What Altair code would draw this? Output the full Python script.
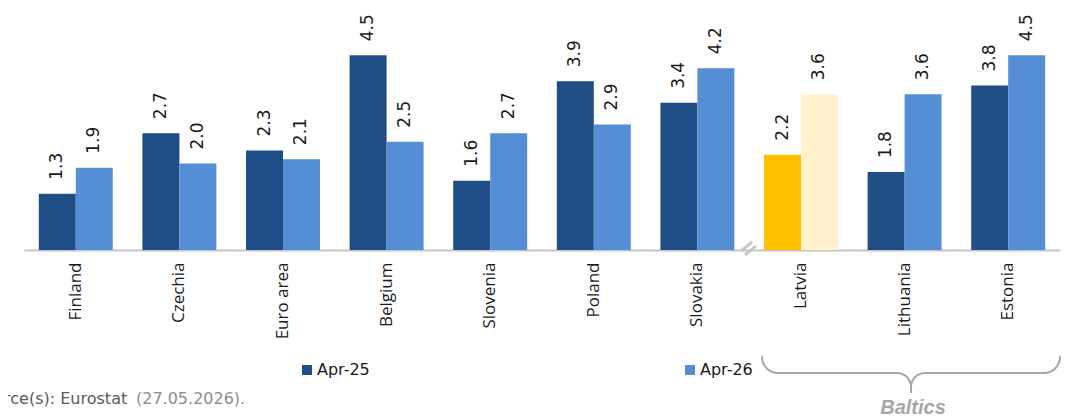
import altair as alt
import pandas as pd
import numpy as np

# ---------------- data ----------------
countries = ["Finland", "Czechia", "Euro area", "Belgium", "Slovenia",
             "Poland", "Slovakia", "Latvia", "Lithuania", "Estonia"]
apr25 = [1.3, 2.7, 2.3, 4.5, 1.6, 3.9, 3.4, 2.2, 1.8, 3.8]
apr26 = [1.9, 2.0, 2.1, 2.5, 2.7, 2.9, 4.2, 3.6, 3.6, 4.5]
series_names = ["Apr-25", "Apr-26"]
highlight = "Latvia"
group_label = "Baltics"
source_main = "Source(s): Eurostat"
source_date = "(27.05.2026)."

# ---------------- styling ----------------
PLOT_W, PLOT_H = 1036, 238
PAD_L, PAD_T, PAD_R, PAD_B = 16, 4, 3, 168
OX, OY = 8 + PAD_L, 8 + PAD_T  # page position of plot origin

color_domain = series_names + [f"{highlight} {s}" for s in series_names]
color_range = ["#1F4E87", "#558ED5", "#FFC000", "#FFF2CC"]

rows = []
for c, a, b in zip(countries, apr25, apr26):
    for s, v in zip(series_names, (a, b)):
        rows.append({"country": c, "series": s, "value": v,
                     "ckey": f"{highlight} {s}" if c == highlight else s})
df = pd.DataFrame(rows)

x_enc = alt.X("country:N", sort=countries,
              scale=alt.Scale(paddingInner=0.286, paddingOuter=0.143),
              axis=alt.Axis(title=None, labelAngle=270, labelAlign="right",
                            labelBaseline="middle", labelPadding=12,
                            labelFont="Open Sans", labelFontSize=17,
                            labelColor="#1a1a1a", ticks=False,
                            domainColor="#c4c4c4", domainWidth=2,
                            labelLimit=300))
xo_enc = alt.XOffset("series:N", sort=series_names,
                     scale=alt.Scale(paddingInner=0, paddingOuter=0))
y_enc = alt.Y("value:Q", scale=alt.Scale(domain=[0, 5.5]), axis=None)

bars = alt.Chart(df).mark_bar().encode(
    x=x_enc, xOffset=xo_enc, y=y_enc,
    color=alt.Color("ckey:N",
                    scale=alt.Scale(domain=color_domain, range=color_range),
                    legend=alt.Legend(title=None, values=series_names,
                                      orient="none", direction="horizontal",
                                      columns=2, columnPadding=312,
                                      legendX=299 - OX, legendY=362 - OY,
                                      symbolType="square", symbolSize=100,
                                      symbolStrokeWidth=0, labelFont="DejaVu Sans",
                                      labelFontSize=16, labelColor="#1a1a1a",
                                      labelOffset=2, padding=0)),
)

labels = alt.Chart(df).mark_text(
    angle=270, align="left", baseline="middle", dx=14,
    font="DejaVu Sans", fontSize=17, color="#1a1a1a"
).encode(x=x_enc, xOffset=xo_enc, y=y_enc,
         text=alt.Text("value:Q", format=".1f"))

main = alt.layer(bars, labels)

# ---------------- annotations (pixel space) ----------------
def brace_points():
    pts = []
    xl, xr, ytop, r1, r2, ymid, ytip = 762, 1060, 357, 16, 14, 373, 392
    xc = (xl + xr) / 2
    half = []
    for t in np.linspace(0, np.pi / 2, 10):
        half.append((xl + r1 - r1 * np.cos(t), ytop + r1 * np.sin(t)))
    for t in np.linspace(0, np.pi / 2, 10):
        half.append((xc - r2 + r2 * np.sin(t), ymid + r2 - r2 * np.cos(t)))
    half.append((xc, ytip))
    for side, sgn in (("L", 1), ("R", -1)):
        for i, (px, py) in enumerate(half):
            xx = px if sgn == 1 else 2 * xc - px
            pts.append({"side": side, "o": i, "px": xx - OX, "py": py - OY})
    return pd.DataFrame(pts)

brace = alt.Chart(brace_points()).mark_line(
    color="#a6a6a6", strokeWidth=2, strokeCap="round"
).encode(x=alt.X("px:Q", scale=None, axis=None),
         y=alt.Y("py:Q", scale=None, axis=None),
         detail="side:N", order="o:Q")

baltics_txt = alt.Chart(pd.DataFrame({"t": [group_label]})).mark_text(
    font="Liberation Sans", fontSize=20, fontWeight="bold", fontStyle="italic",
    color="#a6a6a6", align="center", baseline="alphabetic"
).encode(text="t:N", x=alt.value(913 - OX), y=alt.value(414 - OY))

src1 = alt.Chart(pd.DataFrame({"t": [source_main]})).mark_text(
    font="DejaVu Sans", fontSize=16, color="#595959", align="left",
    baseline="alphabetic"
).encode(text="t:N", x=alt.value(-26 - OX), y=alt.value(404 - OY))

src2 = alt.Chart(pd.DataFrame({"t": [source_date]})).mark_text(
    font="DejaVu Sans", fontSize=16, color="#8c8c8c", align="left",
    baseline="alphabetic"
).encode(text="t:N", x=alt.value(136 - OX), y=alt.value(404 - OY))

brk1 = alt.Chart(pd.DataFrame({"a": [0]})).mark_rule(
    color="#c8c8c8", strokeWidth=3
).encode(x=alt.value(741 - OX), y=alt.value(251 - OY),
         x2=alt.value(752 - OX), y2=alt.value(242 - OY))
brk2 = alt.Chart(pd.DataFrame({"a": [0]})).mark_rule(
    color="#c8c8c8", strokeWidth=3
).encode(x=alt.value(745 - OX), y=alt.value(255 - OY),
         x2=alt.value(756 - OX), y2=alt.value(246 - OY))

chart = alt.layer(main, brk1, brk2, brace, baltics_txt, src1, src2).resolve_scale(
    x="independent", y="independent"
).properties(
    width=PLOT_W, height=PLOT_H,
    autosize=alt.AutoSizeParams(type="none"),
    padding={"left": PAD_L, "top": PAD_T, "right": PAD_R, "bottom": PAD_B},
).configure_view(stroke=None)

chart.save("out.html", embed_options={"renderer": "svg", "actions": False})
